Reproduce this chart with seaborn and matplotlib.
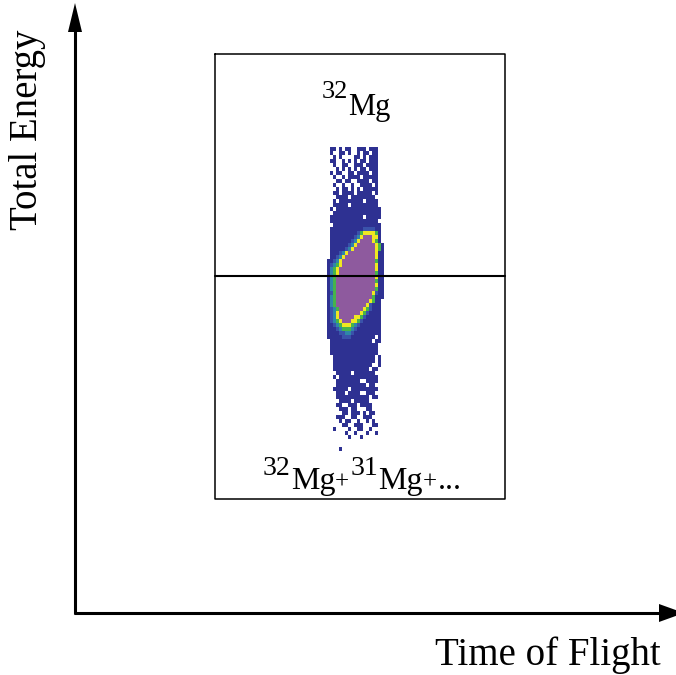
import numpy as np
import pandas as pd
import matplotlib
matplotlib.use("Agg")
import matplotlib.pyplot as plt
import seaborn as sns
from matplotlib.colors import ListedColormap

sns.set_theme(style="white")
plt.rcParams["font.family"] = ["Liberation Serif", "DejaVu Serif"]
plt.rcParams["text.color"] = "black"

# ---------------- data ----------------
# count level per cell of the ToF / E histogram (' ' = empty, 1..6 = colour level)
level_colors = ["#2e3192", "#3a52aa", "#2f86a8", "#46b44a", "#efe821", "#8e5a9e"]
hist_rows = [
    " 11 1 11  111 111  ",
    " 1  11 1  1 11 11  ",
    "  1 1    11 1 111  ",
    " 11  1 1 1 11 111  ",
    "  1  11  111 1111  ",
    "   1 1 1 1 11 111  ",
    " 1 11  11 1111 11  ",
    "  1  1 1111 11111  ",
    "   11 11  1111 11  ",
    "  1  1  1  1111 1  ",
    "   1 11 1 1 11111  ",
    "  11 1111 11111 1  ",
    "   1111 11111111   ",
    "  1 11111111 1111  ",
    "  11111 111111111  ",
    " 1 111111111111111 ",
    "  1111111111111111 ",
    " 11111111111 11111 ",
    " 1111111111111111  ",
    "  1111111111111111 ",
    " " + "1" * 11 + "2222" + "11 ",
    " " + "1" * 9 + "24" + "5555" + "41" + " ",
    " " + "1" * 8 + "235" + "6" * 3 + "551 ",
    " " + "1" * 7 + "235" + "6" * 4 + "541 ",
    " " + "1" * 6 + "235" + "6" * 6 + "541",
    " " + "1" * 5 + "235" + "6" * 7 + "541",
    " " + "1" * 3 + "235" + "6" * 9 + "511",
    " 11" + "235" + "6" * 10 + "511",
    "11" + "235" + "6" * 11 + "411",
    "12" + "345" + "6" * 11 + "511",
    "1345" + "6" * 12 + "511",
    "1345" + "6" * 12 + "411",
    "134" + "6" * 13 + "511",
    "134" + "6" * 13 + "411",
    "134" + "6" * 13 + "511",
    "134" + "6" * 13 + "411",
    "124" + "6" * 12 + "5211",
    "134" + "6" * 12 + "4111",
    "134" + "6" * 11 + "5411 ",
    "134" + "6" * 10 + "52111 ",
    "1234" + "6" * 8 + "542111 ",
    "1235" + "6" * 7 + "5421111 ",
    "1235" + "6" * 5 + "554211111 ",
    "12345" + "6" * 3 + "5542111111 ",
    "11234555432" + "1" * 7 + " ",
    "111234443" + "2" + "1" * 8 + " ",
    "1111" + "2233" + "2" + "1" * 9 + " ",
    "11111222" + "11111111" + " 1 ",
    " " + "1" * 14 + " 11 ",
    " " + "1" * 16 + "  ",
    " " + "1" * 16 + "  ",
    " " + "1" * 16 + "  ",
    "  " + "1" * 14 + " 1 ",
    "  11111111111111 1 ",
    "  1111111111111  1 ",
    "  111111111111 11  ",
    "   11111 1111111   ",
    "  1 1111111111111  ",
    "   11111111  1111  ",
    "   1111111111 11   ",
    "  11111 111111111  ",
    "   111 1111  111   ",
    "   11111111111 11  ",
    "    1111 11111     ",
    "   11  111 1111    ",
    "    111 11   11    ",
    "     11 111 1 11   ",
    "   111  11  111    ",
    "    1 11  1  1 1   ",
    "     11  111   11  ",
    "  1    1  11  1    ",
    "      1  1   1  1  ",
    "       1   1       ",
    "                   ",
    "                   ",
    "    1              ",
]
x_label = "Time of Flight"
y_label = "Total Energy"
upper_label = [("32", "sup"), ("Mg", "main")]
lower_label = [("32", "sup"), ("Mg", "main"), ("+", "small"),
               ("31", "sup"), ("Mg", "main"), ("+", "small"), ("...", "main")]

# ---------------- figure ----------------
W, H = 676, 675
fig = plt.figure(figsize=(W / 100, H / 100), dpi=100)

ncol = 19
grid = np.array([[0 if ch == " " else int(ch) for ch in r.ljust(ncol)[:ncol]]
                 for r in hist_rows])
df = pd.DataFrame(grid)

# histogram inset (pixel box 327..384 x 147..451)
hx0, hy0, hw, hh = 327, 147, 57, 304
ax_h = fig.add_axes([hx0 / W, 1 - (hy0 + hh) / H, hw / W, hh / H])
sns.heatmap(df, mask=(grid == 0), cmap=ListedColormap(level_colors),
            vmin=0.5, vmax=6.5, cbar=False, ax=ax_h,
            xticklabels=False, yticklabels=False)
ax_h.axis("off")

# overlay axes in pixel coordinates
ax = fig.add_axes([0, 0, 1, 1], zorder=3)
ax.set_xlim(0, W)
ax.set_ylim(H, 0)
ax.axis("off")
ax.patch.set_alpha(0)

lw_axis = 2.2
# y axis with arrow
ax.plot([75, 75], [614, 28], color="black", lw=lw_axis, solid_capstyle="butt")
ax.fill([75, 68, 82], [3, 32, 32], color="black", lw=0)
# x axis with arrow
ax.plot([74, 662], [613, 613], color="black", lw=lw_axis, solid_capstyle="butt")
ax.fill([684, 659, 659], [613, 604, 622], color="black", lw=0)

# box and divider
ax.plot([215, 505, 505, 215, 215], [54, 54, 499, 499, 54], color="black", lw=1.1)
ax.plot([215, 505], [276, 276], color="black", lw=1.5)

ax.text(28, 130, y_label, rotation=90, ha="center", va="center",
        fontsize=28, color="black")
ax.text(435, 665, x_label, ha="left", va="baseline", fontsize=28, color="black")

fig.canvas.draw()
renderer = fig.canvas.get_renderer()


def place(parts, x, base_main, base_sup, sizes, gap):
    for s, kind in parts:
        yb = base_sup if kind == "sup" else base_main
        t = ax.text(x, yb, s, ha="left", va="baseline",
                    fontsize=sizes[kind], color="black")
        bb = t.get_window_extent(renderer=renderer)
        x += bb.width + (gap if kind == "small" else 0)


place(upper_label, 322, 115, 98, {"sup": 19, "main": 22, "small": 18}, 0)
place(lower_label, 263, 489, 475, {"sup": 20, "main": 23, "small": 18}, 1)

fig.savefig("out.png", dpi=100)
